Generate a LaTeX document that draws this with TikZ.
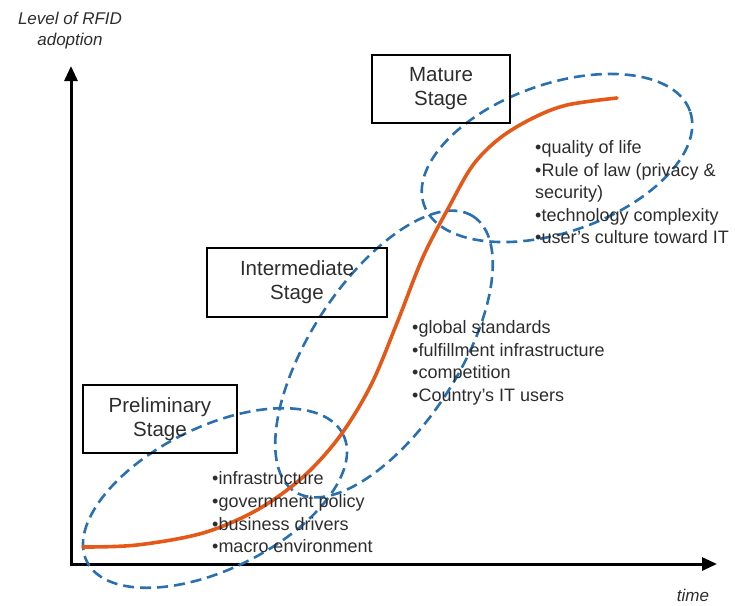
\documentclass[tikz,border=0pt]{standalone}
\usepackage{fontspec}
\setmainfont{Liberation Sans}
\usetikzlibrary{arrows.meta}
\definecolor{dashblue}{RGB}{40,112,175}
\definecolor{curveorange}{RGB}{228,88,24}
\definecolor{txt}{RGB}{45,45,45}
\begin{document}
\begin{tikzpicture}[x=1pt,y=-1pt,
  stagebox/.style={draw=black,line width=2.2pt,align=center,font=\fontsize{20.5}{24}\selectfont,text=txt,inner sep=0pt},
  listtext/.style={anchor=base west,inner sep=0pt,font=\fontsize{18}{22}\selectfont,text=txt},
  zone/.style={draw=dashblue,line width=2.6pt,dash pattern=on 11pt off 6pt},
  axisline/.style={line width=3pt,-{Triangle[width=13pt,length=15pt]}},
  axlabel/.style={font=\itshape\fontsize{17}{21}\selectfont,text=txt,align=center,inner sep=0pt}]
\useasboundingbox (0,0) rectangle (735,605);

% axes
\coordinate (origin) at (71,564);
\coordinate (ytip) at (71,66);
\coordinate (xtip) at (717,564);
\draw[axisline] (origin) -- (ytip);
\draw[axisline] ([xshift=-1.5pt]origin) -- (xtip);
\node[axlabel] (ylab) at (70,31) {Level of RFID\\adoption};
\node[axlabel] (xlab) at (693,595) {time};

% zones
\draw[zone,rotate around={26.3:(215,498)}] (215,498) ellipse [x radius=143pt, y radius=71pt];
\draw[zone,rotate around={57:(384,354)}] (384,354) ellipse [x radius=164pt, y radius=74pt];
\draw[zone,rotate around={19.4:(557,158)}] (557,158) ellipse [x radius=141pt, y radius=74pt];

% adoption curve
\draw[curveorange,line width=3.6pt,line cap=round] plot[smooth,tension=0.55] coordinates {
  (83,547) (137,545) (203,533) (257,510) (303,477) (340,436) (371,385) (397,323)
  (423,257) (450,205) (473,165) (500,138) (533,118) (567,105) (617,98)};

% stage boxes
\node[stagebox,minimum width=138pt,minimum height=68pt] (mature) at (441,89) {Mature\\Stage};
\node[stagebox,minimum width=180pt,minimum height=69pt] (inter) at (297,282.5) {Intermediate\\Stage};
\node[stagebox,minimum width=154pt,minimum height=68pt] (prelim) at (160,419) {Preliminary\\Stage};

% mature factors
\node[listtext] (m1) at (535,153) {•quality of life};
\node[listtext] (m2) at (535,176) {•Rule of law (privacy \&};
\node[listtext] (m3) at (535,198) {security)};
\node[listtext] (m4) at (535,221) {•technology complexity};
\node[listtext] (m5) at (535,243) {•user's culture toward IT};

% intermediate factors
\node[listtext] (i1) at (412,333) {•global standards};
\node[listtext] (i2) at (412,356) {•fulfillment infrastructure};
\node[listtext] (i3) at (412,378) {•competition};
\node[listtext] (i4) at (412,401) {•Country's IT users};

% preliminary factors
\node[listtext] (p1) at (212,484) {•infrastructure};
\node[listtext] (p2) at (212,507) {•government policy};
\node[listtext] (p3) at (212,530) {•business drivers};
\node[listtext] (p4) at (212,552) {•macro environment};
\end{tikzpicture}
\end{document}
